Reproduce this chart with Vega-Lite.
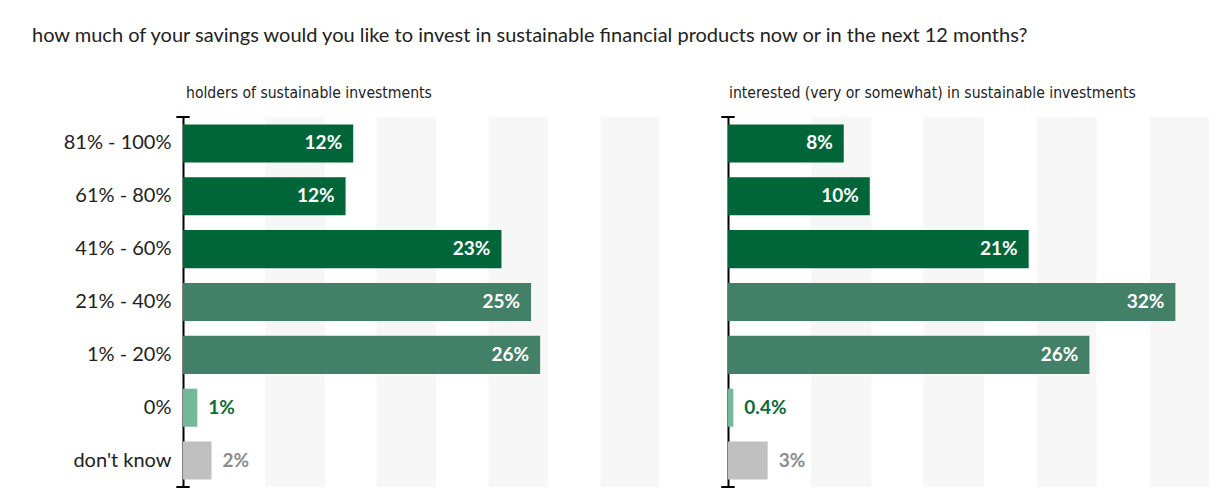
{
  "$schema": "https://vega.github.io/schema/vega-lite/v6.json",
  "background": "white",
  "padding": {"left": 32, "top": 26, "right": 10, "bottom": 2},
  "title": {
    "text": "how much of your savings would you like to invest in sustainable financial products now or in the next 12 months?",
    "anchor": "start",
    "frame": "group",
    "dx": -151,
    "font": "Lato",
    "fontSize": 20,
    "fontWeight": "normal",
    "color": "#222222",
    "offset": 40
  },
  "config": {"view": {"stroke": null}, "font": "Lato"},
  "datasets": {
    "stripes": [
      {"s": 5.9, "e": 10.2},
      {"s": 13.9, "e": 18.2},
      {"s": 21.95, "e": 26.2},
      {"s": 30.0, "e": 34.2}
    ],
    "caps": [{"p": 0}, {"p": 1}],
    "holders": [
      {"cat": "81% - 100%", "value": 12.23, "label": "12%", "grp": "dark"},
      {"cat": "61% - 80%", "value": 11.68, "label": "12%", "grp": "dark"},
      {"cat": "41% - 60%", "value": 22.88, "label": "23%", "grp": "dark"},
      {"cat": "21% - 40%", "value": 25.01, "label": "25%", "grp": "mid"},
      {"cat": "1% - 20%", "value": 25.66, "label": "26%", "grp": "mid"},
      {"cat": "0%", "value": 1.03, "label": "1%", "grp": "light"},
      {"cat": "don't know", "value": 2.05, "label": "2%", "grp": "grey"}
    ],
    "interested": [
      {"cat": "81% - 100%", "value": 8.23, "label": "8%", "grp": "dark"},
      {"cat": "61% - 80%", "value": 10.08, "label": "10%", "grp": "dark"},
      {"cat": "41% - 60%", "value": 21.38, "label": "21%", "grp": "dark"},
      {"cat": "21% - 40%", "value": 31.81, "label": "32%", "grp": "mid"},
      {"cat": "1% - 20%", "value": 25.7, "label": "26%", "grp": "mid"},
      {"cat": "0%", "value": 0.38, "label": "0.4%", "grp": "light"},
      {"cat": "don't know", "value": 2.82, "label": "3%", "grp": "grey"}
    ]
  },
  "spacing": 61,
  "hconcat": [
    {
      "width": 476,
      "height": 370,
      "title": {"text": "holders of sustainable investments", "anchor": "start", "frame": "group", "dx": 3, "offset": 14, "font": "DejaVu Sans Condensed, Lato", "fontSize": 15.6, "fontWeight": "normal", "color": "#222222"},
      "layer": [
        {
          "data": {"name": "stripes"},
          "mark": {"type": "rect", "color": "#f7f7f7"},
          "encoding": {
            "x": {"field": "s", "type": "quantitative", "scale": {"domain": [0, 34.2], "nice": false, "zero": false}, "axis": null},
            "x2": {"field": "e"}
          }
        },
        {
          "data": {"name": "holders"},
          "encoding": {
            "y": {"field": "cat", "type": "nominal", "sort": null,
              "scale": {"domain": ["81% - 100%", "61% - 80%", "41% - 60%", "21% - 40%", "1% - 20%", "0%", "don't know"], "paddingInner": 0.28, "paddingOuter": 0.14},
              "axis": {"title": null, "domain": true, "domainColor": "#000000", "domainWidth": 2, "ticks": false, "tickSize": 0, "labelPadding": 12, "labelFont": "Lato", "labelFontSize": 20, "labelColor": "#222222", "grid": false}},
            "x": {"field": "value", "type": "quantitative"}
          },
          "layer": [
            {
              "mark": {"type": "bar"},
              "encoding": {
                "color": {"field": "grp", "type": "nominal", "scale": {"domain": ["dark", "mid", "light", "grey"], "range": ["#006639", "#428067", "#74b89a", "#c0c0c0"]}, "legend": null}
              }
            },
            {
              "transform": [{"filter": "datum.value > 5"}],
              "mark": {"type": "text", "align": "right", "baseline": "middle", "dx": -11, "font": "Lato", "fontSize": 19, "fontWeight": "bold", "color": "#ffffff"},
              "encoding": {"text": {"field": "label"}}
            },
            {
              "transform": [{"filter": "datum.value <= 5"}],
              "mark": {"type": "text", "align": "left", "baseline": "middle", "dx": 11, "font": "Lato", "fontSize": 19, "fontWeight": "bold"},
              "encoding": {
                "text": {"field": "label"},
                "color": {"condition": {"test": "datum.grp === 'grey'", "value": "#8c8c8c"}, "value": "#0b6b3c"}
              }
            }
          ]
        },
        {
          "data": {"name": "caps"},
          "mark": {"type": "rule", "color": "#000000", "strokeWidth": 2},
          "encoding": {
            "y": {"field": "p", "type": "quantitative", "scale": {"domain": [0, 1], "nice": false}, "axis": null},
            "x": {"datum": -0.48},
            "x2": {"datum": 0.48}
          }
        }
      ],
      "resolve": {"scale": {"y": "independent"}, "axis": {"y": "independent"}}
    },
    {
      "width": 481,
      "height": 370,
      "title": {"text": "interested (very or somewhat) in sustainable investments", "anchor": "start", "frame": "group", "dx": 1, "offset": 14, "font": "DejaVu Sans Condensed, Lato", "fontSize": 15.6, "fontWeight": "normal", "color": "#222222"},
      "layer": [
        {
          "data": {"name": "stripes"},
          "mark": {"type": "rect", "color": "#f7f7f7"},
          "encoding": {
            "x": {"field": "s", "type": "quantitative", "scale": {"domain": [0, 34.2], "nice": false, "zero": false}, "axis": null},
            "x2": {"field": "e"}
          }
        },
        {
          "data": {"name": "interested"},
          "encoding": {
            "y": {"field": "cat", "type": "nominal", "sort": null,
              "scale": {"domain": ["81% - 100%", "61% - 80%", "41% - 60%", "21% - 40%", "1% - 20%", "0%", "don't know"], "paddingInner": 0.28, "paddingOuter": 0.14},
              "axis": {"title": null, "domain": true, "domainColor": "#000000", "domainWidth": 2, "ticks": false, "tickSize": 0, "labels": false, "grid": false}},
            "x": {"field": "value", "type": "quantitative"}
          },
          "layer": [
            {
              "mark": {"type": "bar"},
              "encoding": {
                "color": {"field": "grp", "type": "nominal", "scale": {"domain": ["dark", "mid", "light", "grey"], "range": ["#006639", "#428067", "#74b89a", "#c0c0c0"]}, "legend": null}
              }
            },
            {
              "transform": [{"filter": "datum.value > 5"}],
              "mark": {"type": "text", "align": "right", "baseline": "middle", "dx": -11, "font": "Lato", "fontSize": 19, "fontWeight": "bold", "color": "#ffffff"},
              "encoding": {"text": {"field": "label"}}
            },
            {
              "transform": [{"filter": "datum.value <= 5"}],
              "mark": {"type": "text", "align": "left", "baseline": "middle", "dx": 11, "font": "Lato", "fontSize": 19, "fontWeight": "bold"},
              "encoding": {
                "text": {"field": "label"},
                "color": {"condition": {"test": "datum.grp === 'grey'", "value": "#8c8c8c"}, "value": "#0b6b3c"}
              }
            }
          ]
        },
        {
          "data": {"name": "caps"},
          "mark": {"type": "rule", "color": "#000000", "strokeWidth": 2},
          "encoding": {
            "y": {"field": "p", "type": "quantitative", "scale": {"domain": [0, 1], "nice": false}, "axis": null},
            "x": {"datum": -0.48},
            "x2": {"datum": 0.48}
          }
        }
      ],
      "resolve": {"scale": {"y": "independent"}, "axis": {"y": "independent"}}
    }
  ]
}
